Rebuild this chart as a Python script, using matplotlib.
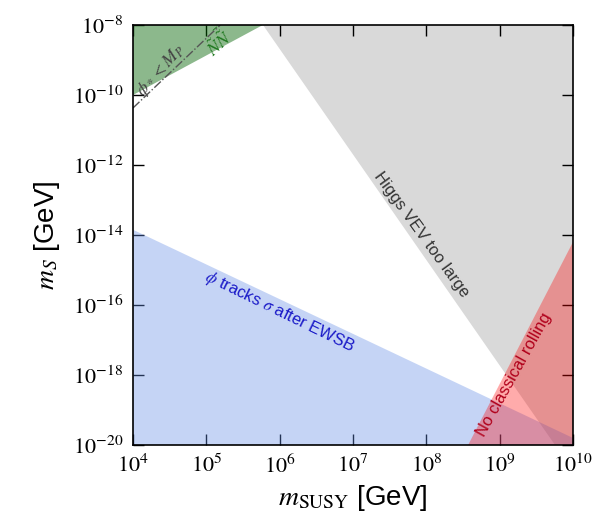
import matplotlib
matplotlib.use("Agg")
import matplotlib.pyplot as plt
import numpy as np

plt.rcParams['font.family'] = ['Liberation Sans', 'DejaVu Sans']
plt.rcParams['mathtext.fontset'] = 'stix'

# region boundaries (log10 m_SUSY, log10 m_S)
green_x = [4.0, 5.77, 4.0]
green_y = [-8.0, -8.0, -10.0]
gray_x = [5.77, 10.0, 10.0, 9.75]
gray_y = [-8.0, -8.0, -20.0, -20.0]
blue_x = [4.0, 10.0, 10.0, 4.0]
blue_y = [-13.85, -19.8, -20.0, -20.0]
red_x = [8.57, 10.0, 10.0]
red_y = [-20.0, -14.2, -20.0]
planck_x = [4.0, 5.19]
planck_y = [-10.37, -8.0]

yticks = [-20, -18, -16, -14, -12, -10, -8]

fig = plt.figure(figsize=(6.11, 5.24), dpi=100)
ax = fig.add_axes([133/611, 1 - 445/524, 440/611, 420/524])

def p(xs, ys):
    return 10**np.array(xs), 10**np.array(ys)

ax.fill(*p(gray_x, gray_y), color='#d9d9d9', lw=0, zorder=1)
ax.fill(*p(green_x, green_y), color=(0.0, 0.39, 0.0), alpha=0.45, lw=0, zorder=2)
ax.fill(*p(blue_x, blue_y), color=(0.39, 0.55, 0.9), alpha=0.37, lw=0, zorder=2)
ax.fill(*p(red_x, red_y), color=(1.0, 0.0, 0.0), alpha=0.33, lw=0, zorder=3)
ax.plot(*p(planck_x, planck_y), color='#555555', ls='-.', lw=1.0, zorder=4)

ax.set_xscale('log')
ax.set_yscale('log')
ax.set_xlim(1e4, 1e10)
ax.set_ylim(1e-20, 1e-8)
ax.set_yticks([10.0**k for k in yticks])
ax.set_yticklabels([r'$10^{%d}$' % k for k in yticks])
ax.yaxis.set_minor_locator(matplotlib.ticker.NullLocator())
ax.set_xticks([10.0**k for k in range(4, 11)])
ax.set_xticklabels([r'$10^{%d}$' % k for k in range(4, 11)])
ax.xaxis.set_minor_locator(matplotlib.ticker.LogLocator(subs=np.arange(2, 10)))
ax.xaxis.set_minor_formatter(matplotlib.ticker.NullFormatter())
ax.tick_params(which='both', direction='in', top=True, right=True, labelsize=16, pad=7)
ax.tick_params(which='major', length=8, width=1)
ax.tick_params(which='minor', length=4, width=1)
for s in ax.spines.values():
    s.set_linewidth(1.2)
    s.set_zorder(5)

ax.set_xlabel(r'$m_{\rm SUSY}$ [GeV]', fontsize=20)
ax.set_ylabel(r'$m_S$ [GeV]', fontsize=20, labelpad=8)

ax.text(10**4.38, 10**-9.3, r'$\phi_* < M_P$', rotation=48, color='#444444',
        fontsize=13, ha='center', va='center', rotation_mode='anchor')
ax.text(10**5.17, 10**-8.5, r'$\tilde{N}\bar{\tilde{N}}$', rotation=42, color='#1e781e',
        fontsize=13, ha='center', va='center', rotation_mode='anchor')
ax.text(10**7.93, 10**-14.0, 'Higgs VEV too large', rotation=-54, color='#333333',
        fontsize=12, ha='center', va='center', rotation_mode='anchor')
ax.text(10**6.0, 10**-16.2, r'$\phi$ tracks $\sigma$ after EWSB', rotation=-26,
        color='#1a1ac8', fontsize=12, ha='center', va='center', rotation_mode='anchor')
ax.text(10**9.2, 10**-18.0, 'No classical rolling', rotation=61, color='#b0001a',
        fontsize=12, ha='center', va='center', rotation_mode='anchor')

fig.savefig('out.png', dpi=100)
